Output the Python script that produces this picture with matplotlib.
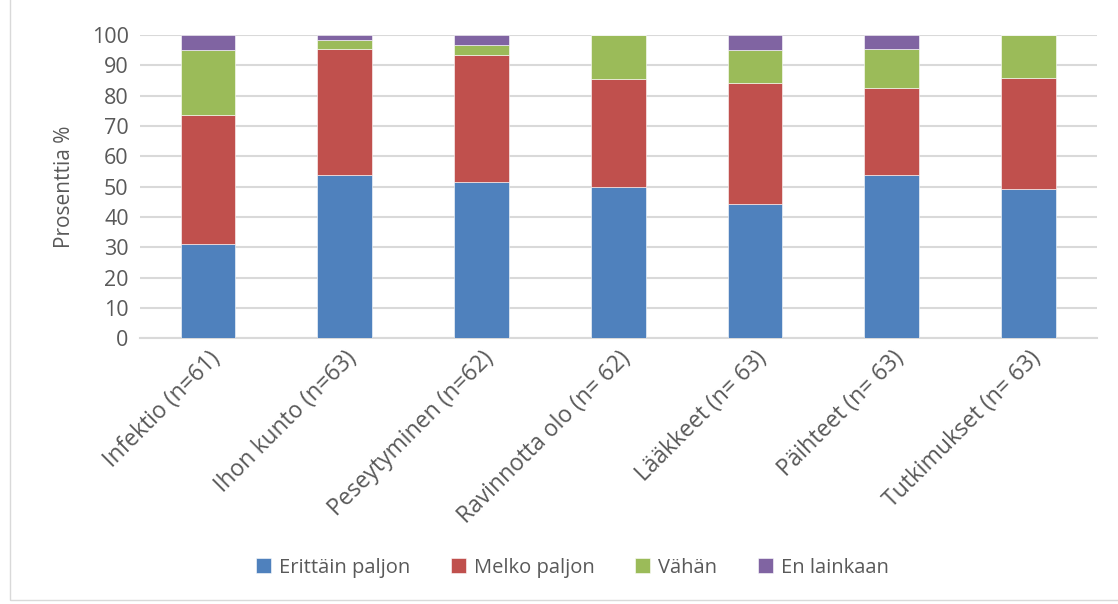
import numpy as np
import matplotlib
matplotlib.use("Agg")
import matplotlib.pyplot as plt
from matplotlib.patches import Rectangle

plt.rcParams['font.family'] = ['Open Sans', 'DejaVu Sans']

# Data: percentages
categories = ['Infektio (n=61)', 'Ihon kunto (n=63)', 'Peseytyminen (n=62)',
              'Ravinnotta olo (n= 62)', 'Lääkkeet (n= 63)', 'Päihteet (n= 63)',
              'Tutkimukset (n= 63)']
erittain = [31.1, 54.0, 51.6, 50.0, 44.4, 54.0, 49.2]
melko = [42.6, 41.3, 41.9, 35.5, 39.7, 28.6, 36.5]
vahan = [21.3, 3.2, 3.2, 14.5, 11.1, 12.7, 14.3]
ei = [4.9, 1.6, 3.2, 0.0, 4.8, 4.8, 0.0]

series = [('Erittäin paljon', erittain, '#4F81BD'),
          ('Melko paljon', melko, '#C0504D'),
          ('Vähän', vahan, '#9BBB59'),
          ('En lainkaan', ei, '#8064A2')]

text_col = '#595959'
grid_col = '#d9d9d9'

fig = plt.figure(figsize=(11.18, 6.04), dpi=100)
ax = fig.add_axes([0.125, 0.44, 0.856, 0.502])

x = np.arange(len(categories))
bottom = np.zeros(len(categories))
for name, vals, col in series:
    ax.bar(x, vals, width=0.4, bottom=bottom, color=col, label=name,
           edgecolor='white', linewidth=0.4, zorder=3)
    bottom += np.array(vals)

ax.set_ylim(0, 100)
ax.set_xlim(-0.5, len(categories) - 0.5)
ax.set_yticks(np.arange(0, 101, 10))
ax.yaxis.grid(True, color=grid_col, linewidth=1.5, zorder=0)
ax.set_axisbelow(True)
for s in ['top', 'right', 'left']:
    ax.spines[s].set_visible(False)
ax.spines['bottom'].set_color(grid_col)
ax.spines['bottom'].set_linewidth(1.5)
ax.tick_params(axis='both', length=0, colors=text_col)
ax.tick_params(axis='y', pad=8, labelsize=15.5)

ax.set_xticks(x)
ax.set_xticklabels(categories, rotation=45, ha='right', rotation_mode='anchor',
                   fontsize=16.5, color=text_col)
ax.tick_params(axis='x', pad=6)

ax.set_ylabel('Prosenttia %', fontsize=15, color=text_col, labelpad=12)

fig.legend(loc='center', bbox_to_anchor=(0.512, 0.06), ncol=4, frameon=False,
           fontsize=14.5, handlelength=0.75, handleheight=0.75, handletextpad=0.4,
           columnspacing=2.0, labelcolor=text_col)

# light chart-area border
fig.patches.append(Rectangle((10 / 1118, 4 / 604), 1.2, 1.2, transform=fig.transFigure,
                             fill=False, edgecolor=grid_col, linewidth=1))

fig.savefig('out.png', dpi=100)
